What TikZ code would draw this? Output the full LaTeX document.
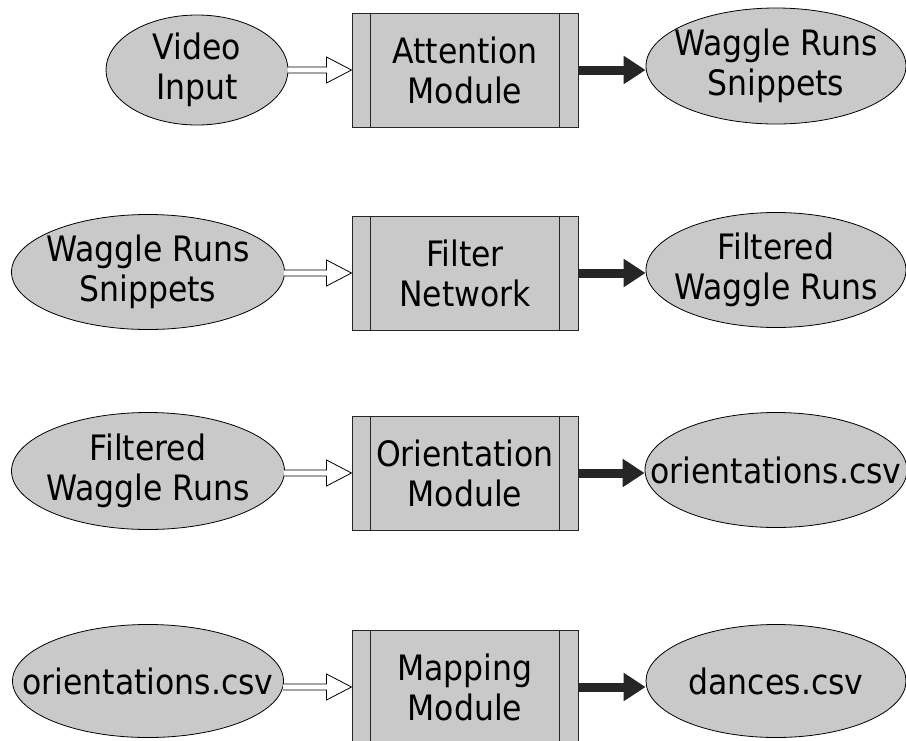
\documentclass[tikz,border=0pt]{standalone}
\usepackage{fontspec}
\setmainfont{DejaVu Sans Condensed}
\usetikzlibrary{shapes.geometric,arrows.meta,calc}
\definecolor{nodegray}{RGB}{201,201,201}
\definecolor{arrowdark}{RGB}{38,38,38}
\begin{document}
\begin{tikzpicture}[x=1pt,y=-1pt,
  txt/.style={font=\fontsize{35}{40}\selectfont, align=center, text=black, inner sep=0pt},
  dataell/.style={ellipse, draw=black, line width=0.8pt, fill=nodegray, inner sep=0pt},
  procbox/.style={rectangle, draw=black!85, line width=1pt, fill=nodegray, minimum width=226pt, minimum height=114pt, inner sep=0pt, txt},
  blackarrow/.style={draw=arrowdark, line width=9pt, -{Triangle[length=22pt,width=27pt]}},
  hollowarrow/.style={draw=black, line width=0.8pt, fill=white}
]
\useasboundingbox (0,0) rectangle (906,740);
\clip (0,0) rectangle (906,740);

% Row 1
\node[dataell, minimum width=182pt, minimum height=110pt, label={[txt]center:Video\\Input}] (in1) at (197,70) {};
\node[procbox] (m1) at (465,70) {Attention\\Module};
\node[dataell, minimum width=260pt, minimum height=116pt, label={[txt]center:Waggle Runs\\Snippets}] (out1) at (776,66) {};

% Row 2
\node[dataell, minimum width=273pt, minimum height=115pt, label={[txt]center:Waggle Runs\\Snippets}] (in2) at (148,272) {};
\node[procbox] (m2) at (465,273) {Filter\\Network};
\node[dataell, minimum width=260pt, minimum height=115pt, label={[txt]center:Filtered\\Waggle Runs}] (out2) at (776,270) {};

% Row 3
\node[dataell, minimum width=273pt, minimum height=117pt, label={[txt]center:Filtered\\Waggle Runs}] (in3) at (148,471) {};
\node[procbox] (m3) at (465,473) {Orientation\\Module};
\node[dataell, minimum width=262pt, minimum height=115pt, label={[txt]center:orientations.csv}] (out3) at (776,470) {};

% Row 4
\node[dataell, minimum width=271pt, minimum height=113pt, label={[txt]center:orientations.csv}] (in4) at (148,681) {};
\node[procbox] (m4) at (465,687) {Mapping\\Module};
\node[dataell, minimum width=260pt, minimum height=113pt, label={[txt]center:dances.csv}] (out4) at (776,681) {};

% inner vertical lines of the process boxes
\foreach \m in {m1,m2,m3,m4}{
  \draw[draw=black!85, line width=1pt] ([xshift=19pt]\m.north west) -- ([xshift=19pt]\m.south west);
  \draw[draw=black!85, line width=1pt] ([xshift=-19pt]\m.north east) -- ([xshift=-19pt]\m.south east);
}

% hollow arrows
\foreach \a/\b in {in1/m1,in2/m2,in3/m3,in4/m4}{
  \path let \p1=(\a.east), \p2=(\b.west) in
    [hollowarrow] (\x1-1,\y2-3) -- (\x2-25,\y2-3) -- (\x2-25,\y2-13) -- (\x2,\y2)
      -- (\x2-25,\y2+13) -- (\x2-25,\y2+3) -- (\x1-1,\y2+3);
}

% black arrows
\foreach \a/\b in {m1/out1,m2/out2,m3/out3,m4/out4}{
  \draw[blackarrow] let \p1=(\a.east), \p2=(\b.west) in (\x1,\y1) -- (\x2,\y1);
}
\end{tikzpicture}
\end{document}
